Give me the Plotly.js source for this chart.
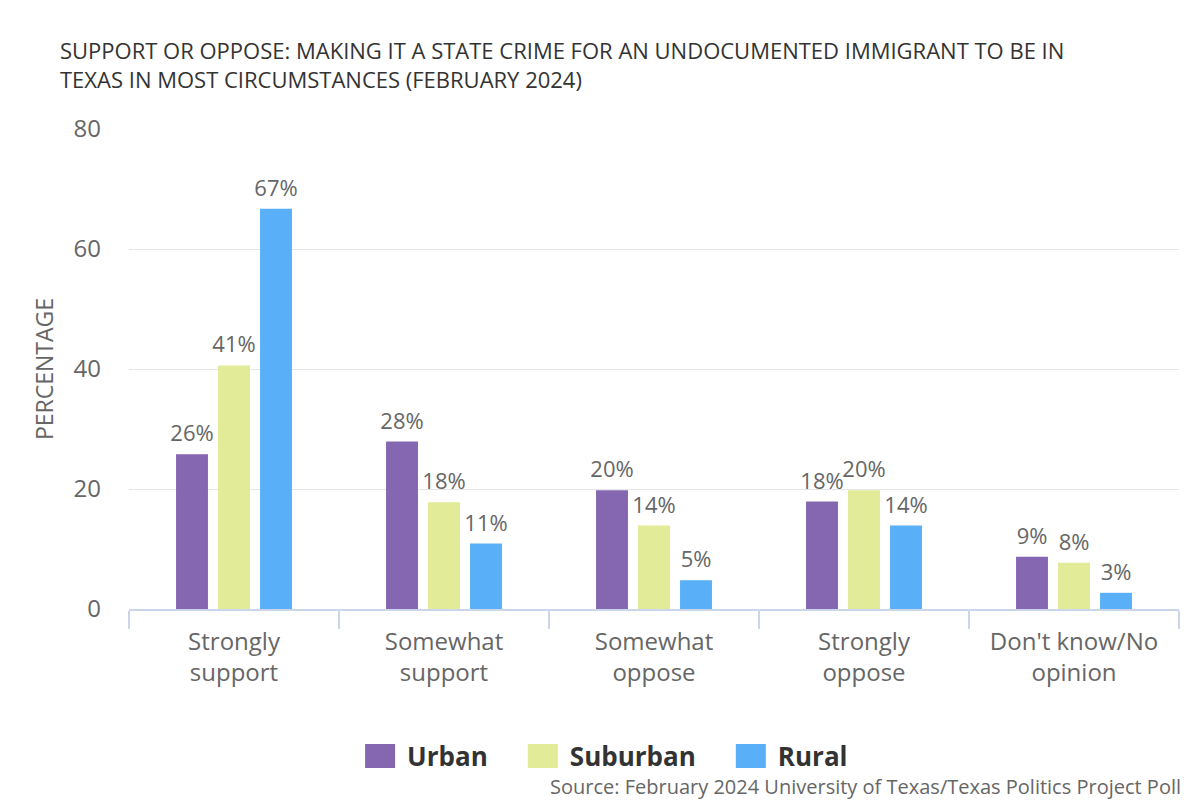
<!DOCTYPE html>
<html>
<head>
<meta charset="utf-8">
<script src="https://cdn.plot.ly/plotly-3.0.1.min.js"></script>
<style>
  html, body { margin: 0; padding: 0; background: #fff; }
  #chart { width: 1200px; height: 800px; }
</style>
</head>
<body>
<div id="chart"></div>
<script>
// Data
const categories = ["Strongly<br>support", "Somewhat<br>support", "Somewhat<br>oppose", "Strongly<br>oppose", "Don't know/No<br>opinion"];
const urban    = [25.8, 27.9, 19.8, 17.9, 8.7];
const suburban = [40.6, 17.8, 13.9, 19.8, 7.7];
const rural    = [66.7, 10.9, 4.8, 13.9, 2.7];
const seriesNames = ["Urban", "Suburban", "Rural"];
const seriesColors = ["#8566b0", "#e2eb98", "#5ab0f8"];
const yTicks = [0, 20, 40, 60, 80];

const titleText = "SUPPORT OR OPPOSE: MAKING IT A STATE CRIME FOR AN UNDOCUMENTED IMMIGRANT TO BE IN<br>TEXAS IN MOST CIRCUMSTANCES (FEBRUARY 2024)";
const sourceText = "Source: February 2024 University of Texas/Texas Politics Project Poll";

const FONT = "Open Sans, Noto Sans, sans-serif";

const seriesValues = [urban, suburban, rural];
const traces = seriesValues.map((vals, i) => ({
  type: "bar",
  name: seriesNames[i],
  x: categories,
  y: vals,
  marker: { color: seriesColors[i], line: { width: 0 } },
  text: vals,
  texttemplate: "%{y:.0f}%",
  textposition: "outside",
  textfont: { family: FONT, size: 22, color: "#666666" },
  constraintext: "none",
  cliponaxis: false,
  hoverinfo: "skip"
}));

const layout = {
  width: 1200,
  height: 800,
  paper_bgcolor: "#ffffff",
  plot_bgcolor: "#ffffff",
  font: { family: FONT, color: "#666666" },
  margin: { l: 129, r: 21, t: 129, b: 191 },
  barmode: "group",
  bargap: 0.4,
  bargroupgap: 0.24,
  title: {
    text: titleText,
    font: { family: FONT, size: 22, color: "#333333" },
    x: 60 / 1200,
    xref: "container",
    xanchor: "left",
    y: 1 - 59 / 800,
    yref: "container",
    yanchor: "top",
    align: "left"
  },
  xaxis: {
    type: "category",
    showline: true,
    linecolor: "#ccd6eb",
    linewidth: 2,
    ticks: "outside",
    tickson: "boundaries",
    ticklen: 18,
    tickwidth: 2,
    tickcolor: "#ccd6eb",
    tickfont: { family: FONT, size: 24, color: "#666666" },
    ticklabelstandoff: 10,
    showgrid: false,
    zeroline: false,
    fixedrange: true
  },
  yaxis: {
    range: [0, 80],
    tickvals: yTicks,
    ticktext: yTicks.map(String),
    tickfont: { family: FONT, size: 24, color: "#666666" },
    ticklabelstandoff: 27,
    showgrid: true,
    gridcolor: "#e6e6e6",
    gridwidth: 1,
    zeroline: false,
    showline: false,
    title: {
      text: "PERCENTAGE",
      font: { family: FONT, size: 23, color: "#666666" },
      standoff: 13
    },
    fixedrange: true
  },
  showlegend: true,
  legend: {
    orientation: "h",
    xref: "container",
    yref: "container",
    x: 0.493,
    xanchor: "center",
    y: 44 / 800,
    yanchor: "middle",
    itemwidth: 67,
    font: { family: FONT, size: 26, color: "#333333", weight: 700 },
    itemclick: false,
    itemdoubleclick: false,
    traceorder: "normal"
  },
  annotations: [{
    text: sourceText,
    xref: "paper",
    yref: "paper",
    x: 1 + 4 / 1050,
    xanchor: "right",
    y: (609 - 786) / 480,
    yanchor: "middle",
    showarrow: false,
    font: { family: FONT, size: 20, color: "#666666" }
  }]
};

Plotly.newPlot("chart", traces, layout, { displayModeBar: false, staticPlot: true }).then(function (gd) {
  // enlarge legend swatches to match the reference's big square markers
  document.querySelectorAll("#chart .legend .legendpoints path").forEach(function (p) {
    p.setAttribute("d", "M26.5,12H-3.5V-12H26.5Z");
  });
  // lift the value labels a little further above the bars
  document.querySelectorAll("#chart .bartext").forEach(function (t) {
    const y = parseFloat(t.getAttribute("y") || "0");
    t.setAttribute("y", String(y - 4));
  });
});
</script>
</body>
</html>
